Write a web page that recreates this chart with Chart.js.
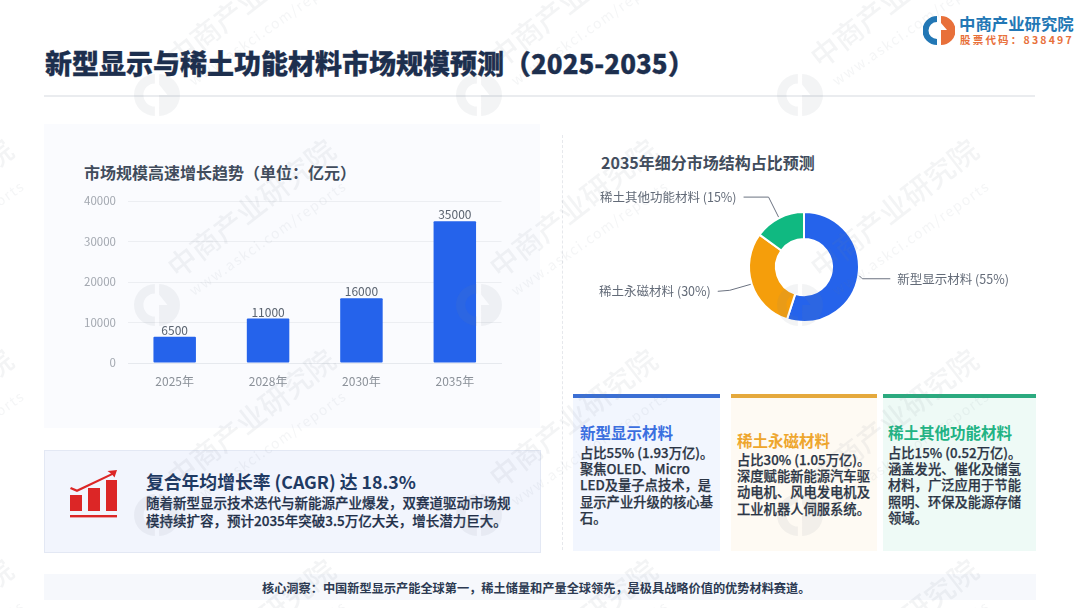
<!DOCTYPE html>
<html lang="zh">
<head>
<meta charset="utf-8">
<title>新型显示与稀土功能材料市场规模预测</title>
<script src="https://cdn.jsdelivr.net/npm/chart.js@4/dist/chart.umd.min.js"></script>
<style>
html, body { margin: 0; padding: 0; background: #fff; }
body { width: 1080px; height: 608px; position: relative; overflow: hidden; font-family: "Noto Sans CJK SC", "Noto Sans", sans-serif; }
.box, .txt, canvas, svg { position: absolute; }
.txt { white-space: pre; }
.card-title { font-size: 15.5px; font-weight: 700; line-height: 20px; }
.card-body { font-size: 13.3px; font-weight: 500; line-height: 16.2px; color: #2b3545; -webkit-text-stroke: 0.25px #2b3545; }
#watermarks { position: absolute; left: 0; top: 0; width: 1080px; height: 608px; pointer-events: none; overflow: hidden; }
.wm-logo { position: absolute; width: 46px; height: 46px; }
.wm-text { position: absolute; height: 30px; line-height: 30px; transform-origin: 0 100%; transform: rotate(-38deg); white-space: pre; color: rgba(120,130,140,0.09); font-weight: 500; font-size: 29px; }
.wm-url { position: absolute; height: 16px; line-height: 16px; transform-origin: 0 100%; transform: rotate(-35deg); white-space: pre; color: rgba(120,130,140,0.08); font-size: 14px; letter-spacing: 1.6px; }
</style>
</head>
<body>

<div class="txt" style="left:45px;top:44px;font-size:27px;font-weight:900;line-height:38px;color:#1d2f4e;-webkit-text-stroke:0.3px #1d2f4e;">新型显示与稀土功能材料市场规模预测（<span style="font-size:26px;">2025-2035</span>）</div>
<div class="box" style="left:44px;top:95px;width:991px;height:2px;background:#eaecef;"></div>

<svg style="left:923px;top:14px;" width="32" height="32" viewBox="0 0 32 32">
  <path d="M14 2 A14.5 14.5 0 0 0 14 31 L14 25 A8.5 8.5 0 0 1 14 8 Z" fill="#2277b5"/>
  <path d="M18 2 A14.5 14.5 0 0 1 18 31 L18 16 L24 16 L18 9 Z" fill="#e8703a"/>
</svg>
<div class="txt" style="left:959px;top:12px;font-size:16.4px;font-weight:700;line-height:22px;color:#2277b5;">中商产业研究院</div>
<div class="txt" style="left:960px;top:33px;font-size:10.5px;font-weight:700;line-height:14px;letter-spacing:2.2px;color:#e8703a;">股票代码：838497</div>

<div class="box" style="left:44px;top:124px;width:496px;height:304px;background:#fafbfe;"></div>
<div class="txt" style="left:84px;top:161px;font-size:16px;font-weight:700;line-height:22px;color:#414c5c;">市场规模高速增长趋势（单位：亿元）</div>
<canvas id="graficoBarras" style="left:44px;top:180px;width:490px;height:230px;" width="490" height="230"></canvas>

<div class="box" style="left:562px;top:135px;width:0;height:415px;border-left:1px dashed #e6e8ec;"></div>
<div class="txt" style="left:601px;top:151px;font-size:16px;font-weight:700;line-height:22px;color:#414c5c;">2035年细分市场结构占比预测</div>
<canvas id="graficoRosca" style="left:590px;top:180px;width:428px;height:174px;" width="428" height="174"></canvas>

<div class="box" style="left:44px;top:450px;width:495px;height:101px;background:#f2f5fd;border:1px solid #e3e8f4;"></div>
<svg style="left:70px;top:470px;" width="48" height="49" viewBox="0 0 48 49" fill="#dc2626">
  <rect x="0" y="25" width="12" height="16"/>
  <rect x="18" y="18" width="12" height="23"/>
  <rect x="36" y="10" width="11" height="31"/>
  <rect x="0" y="45" width="47" height="2.4"/>
  <path d="M1 17 L7 19.5 L41 3.5 L37.5 1 L47 0 L44.5 7.5 L42.5 5 L7 22 L0 19 Z"/>
</svg>
<div class="txt" style="left:146px;top:468px;font-size:17.8px;font-weight:700;line-height:26px;color:#1f3a63;">复合年均增长率 (CAGR) 达 18.3%</div>
<div class="txt" style="left:146px;top:493px;font-size:13.5px;font-weight:500;line-height:18px;color:#22304a;-webkit-text-stroke:0.25px #22304a;">随着新型显示技术迭代与新能源产业爆发，双赛道驱动市场规
模持续扩容，预计2035年突破3.5万亿大关，增长潜力巨大。</div>

<div class="box" style="left:573px;top:398px;width:147px;height:153px;background:#f2f6fe;"></div>
<div class="box" style="left:573px;top:394px;width:147px;height:4px;background:#3b6fd4;"></div>
<div class="txt card-title" style="left:580px;top:422px;color:#3b6fe0;">新型显示材料</div>
<div class="txt card-body" style="left:580px;top:445px;">占比55% (1.93万亿)。
聚焦OLED、Micro
LED及量子点技术，是
显示产业升级的核心基
石。</div>

<div class="box" style="left:731px;top:398px;width:146px;height:153px;background:#fefaf3;"></div>
<div class="box" style="left:731px;top:394px;width:146px;height:4px;background:#e5a93c;"></div>
<div class="txt card-title" style="left:737px;top:430px;color:#eea62d;">稀土永磁材料</div>
<div class="txt card-body" style="left:737px;top:452px;">占比30% (1.05万亿)。
深度赋能新能源汽车驱
动电机、风电发电机及
工业机器人伺服系统。</div>

<div class="box" style="left:883px;top:398px;width:153px;height:153px;background:#eefaf6;"></div>
<div class="box" style="left:883px;top:394px;width:153px;height:4px;background:#2baa7f;"></div>
<div class="txt card-title" style="left:888px;top:422px;color:#22b384;">稀土其他功能材料</div>
<div class="txt card-body" style="left:888px;top:445px;">占比15% (0.52万亿)。
涵盖发光、催化及储氢
材料，广泛应用于节能
照明、环保及能源存储
领域。</div>

<div class="box" style="left:44px;top:574px;width:992px;height:26px;background:#f6f8fc;"></div>
<div class="txt" style="left:262px;top:579px;font-size:12.2px;font-weight:700;line-height:18px;color:#2c3a52;">核心洞察：中国新型显示产能全球第一，稀土储量和产量全球领先，是极具战略价值的优势材料赛道。</div>

<div id="watermarks"></div>

<script>
var categorias = ['2025年', '2028年', '2030年', '2035年'];
var valoresMercado = [6500, 11000, 16000, 35000];

var segmentos = ['新型显示材料', '稀土永磁材料', '稀土其他功能材料'];
var participacoes = [55, 30, 15];
var coresSegmentos = ['#2563eb', '#f59e0b', '#10b981'];

var marcaX = [-165, 157, 479, 800];
var marcaY = [95, 305, 515, 725];

var fonteBase = '"Noto Sans CJK SC", "Noto Sans", sans-serif';

Chart.defaults.animation = false;
Chart.defaults.responsive = false;
Chart.defaults.font.family = fonteBase;

// valor em cima de cada barra
var rotulosBarras = {
    id: 'rotulosBarras',
    afterDatasetsDraw: function (chart) {
        var ctx = chart.ctx;
        ctx.save();
        ctx.font = '12px ' + fonteBase;
        ctx.fillStyle = '#5b6470';
        ctx.textAlign = 'center';
        ctx.textBaseline = 'bottom';
        chart.getDatasetMeta(0).data.forEach(function (bar, i) {
            ctx.fillText(valoresMercado[i], bar.x, bar.y - 0.5);
        });
        ctx.restore();
    },
};

// linhas de chamada e nomes da rosca
var chamadasRosca = {
    id: 'chamadasRosca',
    afterDatasetsDraw: function (chart) {
        var ctx = chart.ctx;
        // cotovelo e fim da linha relativos ao ponto de saida do arco
        var desvios = [
            { ex: 3, ey: 3, fx: 31, fy: 3, tx: 38 },
            { ex: -21, ey: 6, fx: -33, fy: 7, tx: -40 },
            { ex: -10, ey: -20, fx: -35, fy: -20, tx: -42 },
        ];
        ctx.save();
        ctx.font = '12.5px ' + fonteBase;
        ctx.textBaseline = 'middle';
        chart.getDatasetMeta(0).data.forEach(function (arc, i) {
            var meio = (arc.startAngle + arc.endAngle) / 2;
            var px = arc.x + Math.cos(meio) * (arc.outerRadius + 1);
            var py = arc.y + Math.sin(meio) * (arc.outerRadius + 1);
            var d = desvios[i];
            ctx.strokeStyle = '#6b7280';
            ctx.lineWidth = 1;
            ctx.beginPath();
            ctx.moveTo(px, py);
            ctx.lineTo(px + d.ex, py + d.ey);
            ctx.lineTo(px + d.fx, py + d.fy);
            ctx.stroke();
            ctx.fillStyle = '#636b78';
            ctx.textAlign = d.tx > 0 ? 'left' : 'right';
            ctx.fillText(segmentos[i] + ' (' + participacoes[i] + '%)', px + d.tx, py + d.fy);
        });
        ctx.restore();
    },
};

function criarGraficoBarras() {
    new Chart(document.getElementById('graficoBarras').getContext('2d'), {
        type: 'bar',
        data: {
            labels: categorias,
            datasets: [{
                data: valoresMercado,
                backgroundColor: '#2563eb',
                barPercentage: 0.455,
                categoryPercentage: 1,
                borderRadius: 1,
                borderSkipped: false,
            }],
        },
        options: {
            layout: { padding: { top: 21, right: 32.5, bottom: 0, left: 0 } },
            plugins: { legend: { display: false }, tooltip: { enabled: false } },
            scales: {
                x: {
                    afterFit: function (s) { s.height = 47; },
                    grid: { display: false, drawTicks: false },
                    border: { color: '#e6e9ee' },
                    ticks: { color: '#8b9199', font: { size: 12 }, padding: 11, maxRotation: 0, autoSkip: false },
                },
                y: {
                    min: 0,
                    max: 40000,
                    afterFit: function (s) { s.width = 84; },
                    grid: { color: '#eceef2', drawTicks: false },
                    border: { display: false },
                    ticks: {
                        stepSize: 10000,
                        color: '#a3a8b0',
                        font: { size: 11.5 },
                        padding: 12,
                        callback: function (v) { return String(v); },
                    },
                },
            },
        },
        plugins: [rotulosBarras],
    });
}

function criarGraficoRosca() {
    new Chart(document.getElementById('graficoRosca').getContext('2d'), {
        type: 'doughnut',
        data: {
            labels: segmentos,
            datasets: [{
                data: participacoes,
                backgroundColor: coresSegmentos,
                borderColor: '#ffffff',
                borderWidth: 2,
                radius: 55,
                cutout: '51%',
            }],
        },
        options: {
            plugins: { legend: { display: false }, tooltip: { enabled: false } },
        },
        plugins: [chamadasRosca],
    });
}

function criarMarcas() {
    var alvo = document.getElementById('watermarks');
    var html = '';
    marcaY.forEach(function (y) {
        marcaX.forEach(function (x) {
            html += '<svg class="wm-logo" style="left:' + (x - 23) + 'px;top:' + (y - 23) + 'px;" viewBox="0 0 44 44">' +
                '<path d="M20 2 A20 20 0 0 0 20 42 L20 33 A11 11 0 0 1 20 11 Z M24 2 A20 20 0 0 1 24 42 L24 22 L32 22 L24 12 Z" fill="rgba(120,130,140,0.09)"/></svg>';
            html += '<div class="wm-text" style="left:' + (x + 22) + 'px;top:' + (y - 54) + 'px;">中商产业研究院</div>';
            html += '<div class="wm-url" style="left:' + (x + 38) + 'px;top:' + (y - 23) + 'px;">www.askci.com/reports</div>';
        });
    });
    alvo.innerHTML = html;
}

criarGraficoBarras();
criarGraficoRosca();
criarMarcas();
</script>
</body>
</html>
